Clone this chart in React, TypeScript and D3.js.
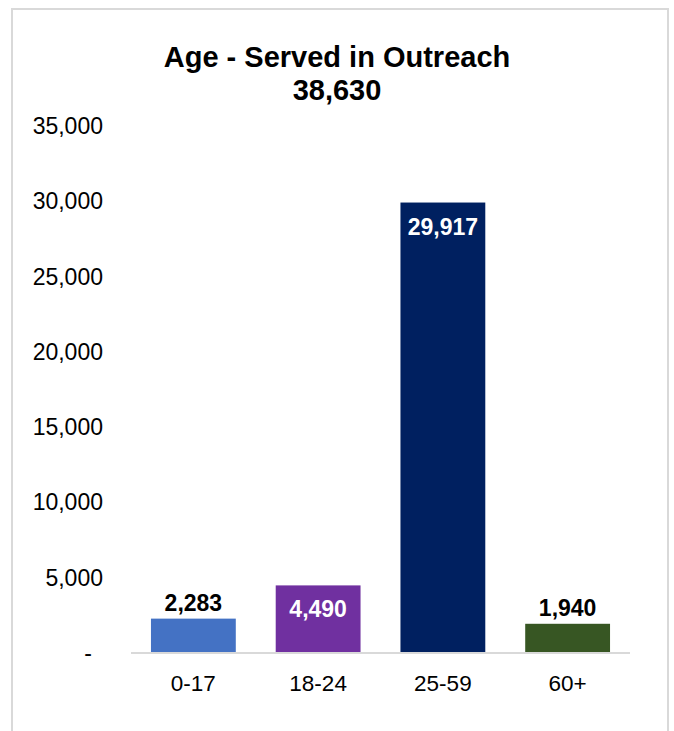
import React from "react";
import * as d3 from "d3";

const categories = ["0-17", "18-24", "25-59", "60+"];
const values = [2283, 4490, 29917, 1940];
const colors = ["#4472C4", "#7030A0", "#002060", "#375623"];
const labelInside = [false, true, true, false];
const yTicks = [0, 5000, 10000, 15000, 20000, 25000, 30000, 35000];
const title = "Age - Served in Outreach";
const subtitle = "38,630";

export default function App() {
  const W = 674, H = 731;
  const x = d3.scaleBand<string>().domain(categories).range([131, 630]).paddingInner(0.32).paddingOuter(0.16);
  const y = d3.scaleLinear().domain([0, 35000]).range([653, 126]);
  const fmt = d3.format(",");
  const font = "Liberation Sans, Arial, sans-serif";
  return (
    <svg width={W} height={H} style={{ position: "absolute", left: 0, top: 0 }} fontFamily={font}>
      <rect x={0} y={0} width={W} height={H} fill="#fff" />
      <rect x={12} y={9} width={656} height={740} fill="#fff" stroke="#d9d9d9" strokeWidth={2} />
      <text x={337} y={67} textAnchor="middle" fontSize={29} fontWeight="bold" fill="#000">{title}</text>
      <text x={337} y={100} textAnchor="middle" fontSize={29} fontWeight="bold" fill="#000">{subtitle}</text>
      {yTicks.map((t) => (
        <text key={t} x={t === 0 ? 92 : 103} y={y(t) + 8} textAnchor="end" fontSize={23} fill="#000">
          {t === 0 ? "-" : fmt(t)}
        </text>
      ))}
      {categories.map((c, i) => {
        const bx = x(c)!;
        const bw = x.bandwidth();
        const top = y(values[i]);
        return (
          <g key={c}>
            <rect x={bx} y={top} width={bw} height={y(0) - top} fill={colors[i]} />
            <text
              x={bx + bw / 2}
              y={labelInside[i] ? top + 32 : top - 8}
              textAnchor="middle"
              fontSize={23}
              fontWeight="bold"
              fill={labelInside[i] ? "#fff" : "#000"}
            >
              {fmt(values[i])}
            </text>
            <text x={bx + bw / 2} y={691} textAnchor="middle" fontSize={22.5} fill="#000">{c}</text>
          </g>
        );
      })}
      <line x1={131} x2={630} y1={y(0)} y2={y(0)} stroke="#d9d9d9" strokeWidth={2} />
    </svg>
  );
}
